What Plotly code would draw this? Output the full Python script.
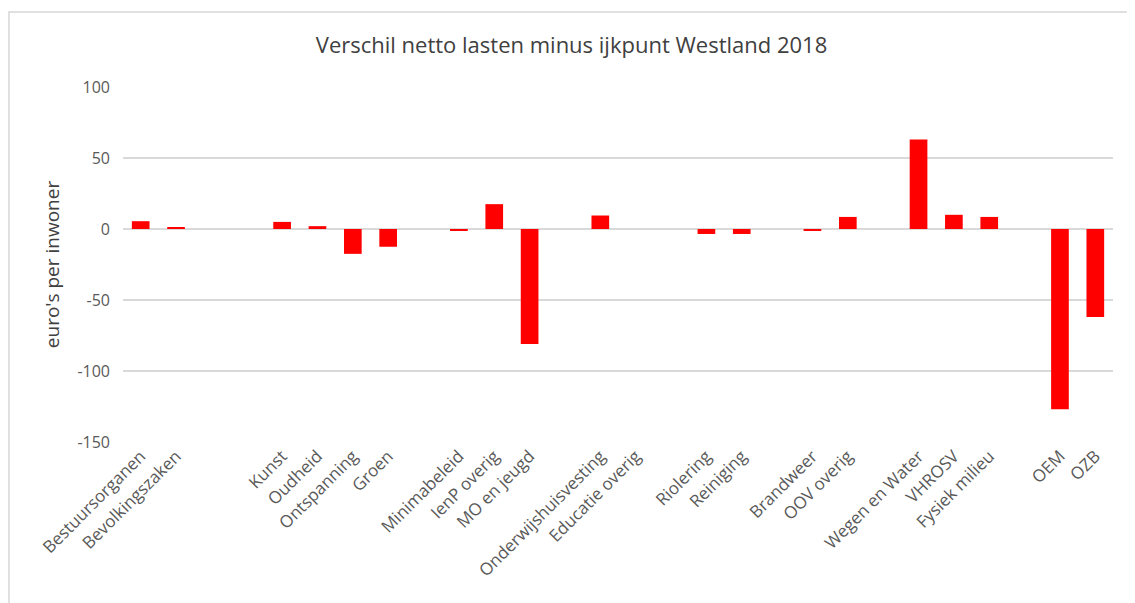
import plotly.graph_objects as go

# Category slots (None = empty gap slot in the original chart)
categories = [
    "Bestuursorganen", "Bevolkingszaken", None, None,
    "Kunst", "Oudheid", "Ontspanning", "Groen", None,
    "Minimabeleid", "IenP overig", "MO en jeugd", None,
    "Onderwijshuisvesting", "Educatie overig", None,
    "Riolering", "Reiniging", None,
    "Brandweer", "OOV overig", None,
    "Wegen en Water", "VHROSV", "Fysiek milieu", None,
    "OEM", "OZB",
]
values = [
    5.5, 1, None, None,
    5, 2, -17.5, -12.5, None,
    -1, 17.5, -81, None,
    9.5, 0, None,
    -3.5, -3.5, None,
    -1, 8.5, None,
    63, 10, 8.5, None,
    -127, -62,
]
tick_labels = [c if c is not None else "" for c in categories]
y_ticks = [-150, -100, -50, 0, 50, 100]
y_tick_text = [str(v) for v in y_ticks]

slots = list(range(len(categories)))
xs = [i for i, v in zip(slots, values) if v is not None]
ys = [v for v in values if v is not None]

fig = go.Figure()
fig.add_trace(go.Bar(
    x=xs, y=ys,
    marker=dict(color="#ff0000", line=dict(width=0)),
    width=0.5,
    hoverinfo="x+y",
))

# page has an 8px body margin
W, H = 1127, 595
L, T = 115, 79
PW, PH = 990, 355
R = W - L - PW
B = H - T - PH

def px_to_paper_x(px):
    return (px - L) / PW

def px_to_paper_y(py):
    return (T + PH - py) / PH

fig.update_layout(
    width=W, height=H,
    margin=dict(l=L, r=R, t=T, b=B),
    paper_bgcolor="white",
    plot_bgcolor="white",
    showlegend=False,
    title=dict(
        text="Verschil netto lasten minus ijkpunt Westland 2018",
        x=0.5, xanchor="center",
        y=1 - 37 / H, yanchor="middle",
        font=dict(family="Open Sans", size=22, color="#404040"),
    ),
    xaxis=dict(
        range=[-0.5, len(categories) - 0.5],
        tickmode="array",
        tickvals=slots,
        ticktext=tick_labels,
        tickangle=-45,
        tickfont=dict(family="Open Sans", size=17, color="#595959"),
        showgrid=False,
        zeroline=False,
        showline=False,
        ticks="",
    ),
    yaxis=dict(
        range=[-150, 100],
        tickmode="array",
        tickvals=y_ticks,
        ticktext=y_tick_text,
        tickfont=dict(family="Open Sans", size=16, color="#595959"),
        ticklabelstandoff=12,
        showgrid=True,
        gridcolor="#d9d9d9",
        gridwidth=1.5,
        zeroline=True,
        zerolinecolor="#d9d9d9",
        zerolinewidth=1.5,
        showline=False,
        ticks="",
        title=dict(
            text="euro's per inwoner",
            font=dict(family="Open Sans", size=19, color="#404040"),
            standoff=12,
        ),
    ),
    shapes=[
        dict(type="line", xref="paper", yref="paper",
             x0=px_to_paper_x(0), x1=px_to_paper_x(W),
             y0=px_to_paper_y(4), y1=px_to_paper_y(4),
             line=dict(color="#e0e0e0", width=2)),
        dict(type="line", xref="paper", yref="paper",
             x0=px_to_paper_x(1), x1=px_to_paper_x(1),
             y0=px_to_paper_y(4), y1=px_to_paper_y(H),
             line=dict(color="#e0e0e0", width=2)),
    ],
)

fig.write_html("out.html")
